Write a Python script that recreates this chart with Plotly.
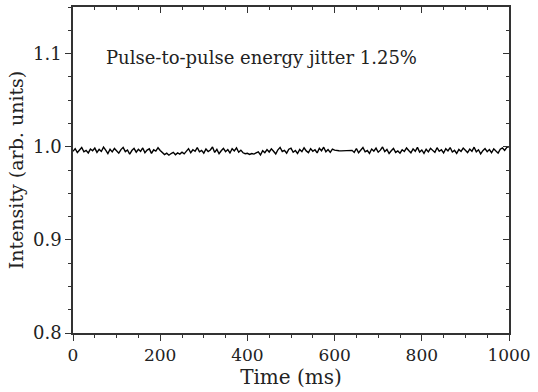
import plotly.graph_objects as go

time_ms = list(range(0, 1001, 5))
intensity = [
    0.9951, 0.9979, 0.9937, 0.9967, 0.9991, 0.9945, 0.9961, 0.9933, 0.9975, 0.9957,
    0.9985, 0.9939, 0.9971, 0.9949, 0.9995, 0.9963, 0.9927, 0.9973, 0.9945, 0.9981,
    0.9955, 0.9931, 0.9969, 0.9993, 0.9947, 0.9965, 0.9919, 0.9959, 0.9983, 0.9941,
    0.9973, 0.9949, 0.9987, 0.9935, 0.9963, 0.9977, 0.9929, 0.9967, 0.9953, 0.9989,
    0.9959, 0.9937, 0.9915, 0.9931, 0.9909, 0.9927, 0.9939, 0.9913, 0.9933, 0.9921,
    0.9941, 0.9923, 0.9955, 0.9979, 0.9935, 0.9967, 0.9951, 0.9991, 0.9945, 0.9961,
    0.9931, 0.9975, 0.9949, 0.9965, 0.9997, 0.9939, 0.9971, 0.9925, 0.9957, 0.9983,
    0.9947, 0.9969, 0.9933, 0.9979, 0.9955, 0.9987, 0.9941, 0.9963, 0.9935, 0.9925,
    0.9929, 0.9917, 0.9927, 0.9921, 0.9933, 0.9945, 0.9911, 0.9957, 0.9935, 0.9969,
    0.9943, 0.9977, 0.9951, 0.9923, 0.9967, 0.9993, 0.9949, 0.9961, 0.9931, 0.9973,
    0.9985, 0.9941, 0.9959, 0.9927, 0.9971, 0.9947, 0.9989, 0.9955, 0.9937, 0.9979,
    0.9951, 0.9967, 0.9933, 0.9983, 0.9957, 0.9995, 0.9945, 0.9969, 0.9939, 0.9975,
    0.9963, 0.9957, 0.9956, 0.9955, 0.9956, 0.9955, 0.9954, 0.9955, 0.9961, 0.9939,
    0.9981, 0.9935, 0.9967, 0.9991, 0.9945, 0.9959, 0.9929, 0.9975, 0.9953, 0.9985,
    0.9941, 0.9963, 0.9997, 0.9947, 0.9971, 0.9927, 0.9957, 0.9981, 0.9939, 0.9955,
    0.9931, 0.9967, 0.9949, 0.9987, 0.9959, 0.9935, 0.9977, 0.9951, 0.9993, 0.9943,
    0.9965, 0.9929, 0.9973, 0.9945, 0.9983, 0.9957, 0.9939, 0.9989, 0.9951, 0.9967,
    0.9933, 0.9979, 0.9955, 0.9991, 0.9943, 0.9961, 0.9927, 0.9971, 0.9949, 0.9985,
    0.9959, 0.9937, 0.9975, 0.9951, 0.9995, 0.9945, 0.9967, 0.9923, 0.9957, 0.9981,
    0.9947, 0.9969, 0.9935, 0.9977, 0.9953, 0.9931, 0.9973, 0.9987, 0.9961, 0.9993,
    0.9998,
]

x_ticks = [0, 200, 400, 600, 800, 1000]
y_ticks = [0.8, 0.9, 1.0, 1.1]
y_tick_labels = ["0.8", "0.9", "1.0", "1.1"]
annotation_text = "Pulse-to-pulse energy jitter 1.25%"

FONT = "DejaVu Serif"
AXC = "#333333"
TXT = "#222222"
XR = [0, 1000]
YR = [0.8, 1.15]

fig = go.Figure()
fig.add_trace(go.Scatter(x=time_ms, y=intensity, mode="lines",
                         line=dict(color="black", width=1.4), showlegend=False))

common = dict(showline=True, linecolor=AXC, linewidth=1.5, showgrid=False,
              zeroline=False, tickcolor=AXC, tickwidth=1.2)

fig.update_layout(
    width=538, height=392,
    margin=dict(l=73, r=22, t=7, b=59),
    paper_bgcolor="white", plot_bgcolor="white",
    font=dict(family=FONT, color=TXT, size=18),
    xaxis=dict(range=XR, tickvals=x_ticks, ticktext=[str(v) for v in x_ticks],
               ticks="outside", ticklen=6, ticklabeloverflow="allow",
               minor=dict(dtick=50, ticks="outside", ticklen=3, tickcolor=AXC, tickwidth=1.2),
               title=dict(text="Time (ms)", font=dict(size=20), standoff=0),
               tickfont=dict(size=17), **common),
    yaxis=dict(range=YR, tickvals=y_ticks, ticktext=y_tick_labels,
               ticks="outside", ticklen=6,
               minor=dict(dtick=0.025, tick0=0.8, ticks="outside", ticklen=3, tickcolor=AXC, tickwidth=1.2),
               title=dict(text="Intensity (arb. units)", font=dict(size=19), standoff=4),
               tickfont=dict(size=18), **common),
    xaxis2=dict(range=XR, overlaying="x", side="top", anchor="y", tickvals=x_ticks,
                showticklabels=False, ticks="inside", ticklen=6,
                minor=dict(dtick=50, ticks="inside", ticklen=3, tickcolor=AXC, tickwidth=1.2),
                **common),
    yaxis2=dict(range=YR, overlaying="y", side="right", anchor="x", tickvals=y_ticks,
                showticklabels=False, ticks="inside", ticklen=6,
                minor=dict(dtick=0.025, tick0=0.8, ticks="inside", ticklen=3, tickcolor=AXC, tickwidth=1.2),
                **common),
)

fig.add_trace(go.Scatter(x=[None], y=[None], xaxis="x2", yaxis="y2",
                         showlegend=False, hoverinfo="skip"))

fig.add_annotation(x=71, y=1.096, xref="x", yref="y", text=annotation_text,
                   showarrow=False, xanchor="left", yanchor="middle",
                   font=dict(family=FONT, size=18, color=TXT))

fig.write_html("out.html")
